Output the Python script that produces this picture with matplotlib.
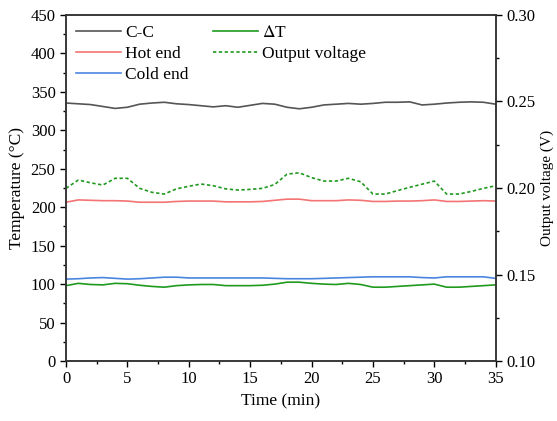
import numpy as np
import matplotlib
matplotlib.use("Agg")
import matplotlib.pyplot as plt
from matplotlib.ticker import MultipleLocator

plt.rcParams['font.family'] = ['Liberation Serif', 'DejaVu Serif']
plt.rcParams['mathtext.fontset'] = 'stix'

# data
time = list(range(36))
cc = [335.5, 334.5, 333.5, 331, 328.5, 330, 334, 335.5, 336.5, 334.5, 333.5, 332,
      330.5, 332, 330, 332.5, 335, 334, 330, 328, 330, 333, 334, 335, 334, 335,
      336.5, 336.5, 337, 333, 334, 335.5, 336.5, 337, 336.5, 334]
hot = [206.5, 209.5, 209, 208.5, 208.5, 208, 206.5, 206.5, 206.5, 207.5, 208, 208,
       208, 207, 207, 207, 207.5, 209, 210.5, 210.5, 208.5, 208.5, 208.5, 209.5, 209,
       207.5, 207.5, 208, 208, 208.5, 209.5, 207.5, 207.5, 208, 208.5, 208]
cold = [106.5, 107, 108, 108.5, 107.5, 106.5, 107, 108, 109, 109, 108, 108, 108, 108,
        108, 108, 108, 107.5, 107, 107, 107, 107.5, 108, 108.5, 109, 109.5, 109.5,
        109.5, 109.5, 108.5, 108, 109.5, 109.5, 109.5, 109.5, 107.5]
dT = [98, 101, 99.5, 99, 101, 100.5, 98.5, 97, 96, 98, 99, 99.5, 99.5, 98, 98, 98,
      98.5, 100, 102.5, 102.5, 101, 100, 99.5, 101, 99.5, 96, 96, 97, 98, 99, 100,
      96, 96, 97, 98, 99]
volt = [0.1998, 0.2046, 0.2030, 0.2017, 0.2056, 0.2056, 0.1998, 0.1975, 0.1965,
        0.1995, 0.2010, 0.2023, 0.2013, 0.1995, 0.1988, 0.1992, 0.1998, 0.2020,
        0.2080, 0.2088, 0.2060, 0.2040, 0.2040, 0.2056, 0.2036, 0.1965, 0.1965,
        0.1985, 0.2004, 0.2022, 0.2040, 0.1965, 0.1965, 0.1980, 0.1998, 0.2013]

fig = plt.figure(figsize=(5.57, 4.21), dpi=100)
ax = fig.add_axes([0.1185, 0.1425, 0.7715, 0.8219])
ax2 = ax.twinx()

l1, = ax.plot(time, cc, color="#555555", lw=1.2, label="C-C")
l2, = ax.plot(time, hot, color="#f47474", lw=1.2, label="Hot end")
l3, = ax.plot(time, cold, color="#4a86e0", lw=1.2, label="Cold end")
l4, = ax.plot(time, dT, color="#1f9a1f", lw=1.2, label=r"$\Delta$T")
l5, = ax2.plot(time, volt, color="#1f9a1f", lw=1.2, ls=(0, (2, 1.5)), label="Output voltage")

ax.set_xlim(0, 35)
ax.set_ylim(0, 450)
ax2.set_ylim(0.10, 0.30)
ax.xaxis.set_major_locator(MultipleLocator(5))
ax.xaxis.set_minor_locator(MultipleLocator(2.5))
ax.yaxis.set_major_locator(MultipleLocator(50))
ax.yaxis.set_minor_locator(MultipleLocator(25))
ax2.yaxis.set_major_locator(MultipleLocator(0.05))
ax2.yaxis.set_minor_locator(MultipleLocator(0.025))
ax2.yaxis.set_major_formatter(plt.FormatStrFormatter('%.2f'))

for a in (ax, ax2):
    a.tick_params(which="major", length=4, width=1, labelsize=12)
    a.tick_params(which="minor", length=2.5, width=1)
    for s in a.spines.values():
        s.set_linewidth(1.1)
        s.set_color("#333333")

ax.set_xlabel("Time (min)", fontsize=12.5)
ax.set_ylabel("Temperature (\u00b0C)", fontsize=12.5)
ax2.set_ylabel("Output voltage (V)", fontsize=11)

ax.legend(handles=[l1, l2, l3, l4, l5], loc="upper left", ncol=2, frameon=False,
          fontsize=12.5, handlelength=2.6, handletextpad=0.25, labelspacing=0.3,
          columnspacing=1.4, borderaxespad=0.1, borderpad=0.45)

fig.savefig("out.png", dpi=100)
